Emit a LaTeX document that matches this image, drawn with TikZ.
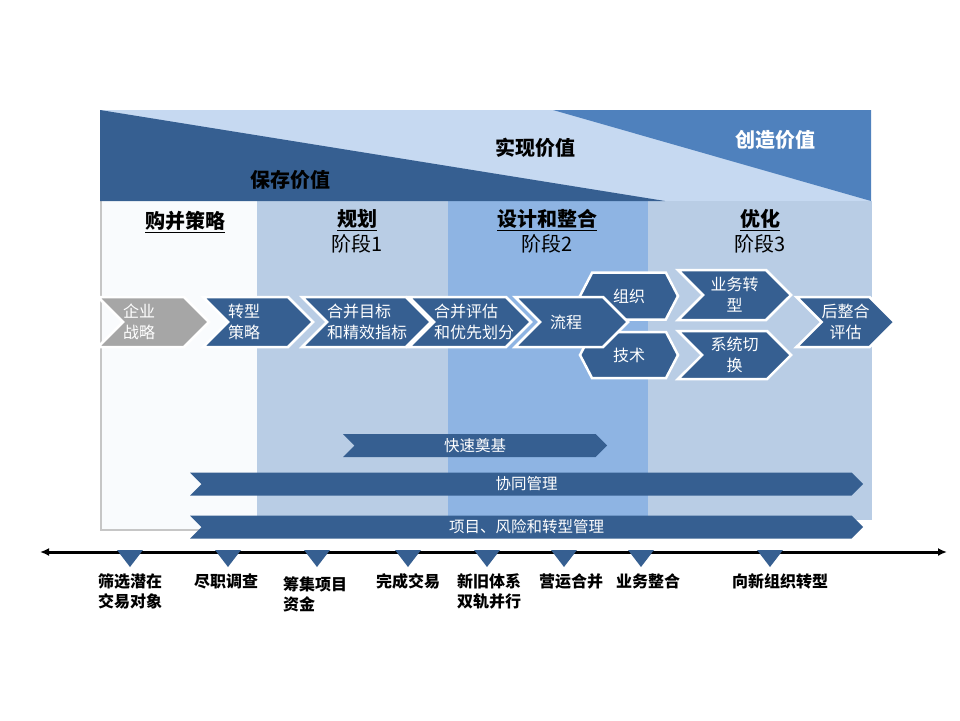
\documentclass[tikz,border=0pt]{standalone}
\usepackage{fontspec}
\setmainfont{Noto Sans CJK SC}
\usepackage{xcolor}
\usepackage{tikz}
\usetikzlibrary{positioning, arrows.meta, shapes.symbols}

\definecolor{dkblue}{HTML}{365F91}
\definecolor{mdblue}{HTML}{4F81BD}
\definecolor{bandlt}{HTML}{C6D9F1}
\definecolor{colA}{HTML}{F9FBFD}
\definecolor{colB}{HTML}{B9CDE5}
\definecolor{colC}{HTML}{8EB4E3}
\definecolor{chgray}{HTML}{A6A6A6}

\tikzset{
  chev/.style={signal, signal from=west, signal to=east, fill=dkblue, draw=white,
    line width=2.5pt, minimum width=110pt, minimum height=50pt, inner sep=0pt,
    text=white, font=\fontsize{16}{21}\selectfont, align=left},
  hexa/.style={chev, signal from=nowhere, signal to=west and east, signal pointer angle=125,
    minimum width=98pt, minimum height=47pt, align=center},
  bar/.style={signal, signal from=west, signal to=east, fill=dkblue, minimum height=23pt,
    inner sep=0pt, text=white, font=\fontsize{15.5}{18}\selectfont},
  head/.style={font=\bfseries\fontsize{20}{24}\selectfont, inner sep=0pt},
  stage/.style={font=\fontsize{20}{24}\selectfont, inner sep=0pt},
  lbl/.style={font=\bfseries\fontsize{16}{20}\selectfont, align=left, inner sep=0pt},
}

\begin{document}
\begin{tikzpicture}[x=1pt, y=-1pt]
\useasboundingbox (0,0) rectangle (960,720);

% phase columns
\fill[colA] (100,201) rectangle (257,530);
\draw[gray!45, line width=1.2pt] (101,201) -- (101,530) -- (257,530);
\fill[colB] (257,201) rectangle (448,520);
\fill[colC] (448,201) rectangle (648,520);
\fill[colB] (648,201) rectangle (872,520);

% value band
\fill[bandlt] (100,110) rectangle (871,201);
\fill[dkblue] (100,110) -- (665,201) -- (100,201) -- cycle;
\fill[mdblue] (553,110) -- (871,110) -- (871,201) -- cycle;
\node[head] (keep) at (290,180) {保存价值};
\node[head] (real) at (535,148) {实现价值};
\node[head, text=white] (make) at (775,140) {创造价值};

% headings
\node[head] (hA) at (185,222) {\underline{购并策略}};
\node[head] (hB) at (357,220) {\underline{规划}};
\node[stage, below=4pt of hB] (sB) {阶段1};
\node[head] (hC) at (547,220) {\underline{设计和整合}};
\node[stage, below=4pt of hC] (sC) {阶段2};
\node[head] (hD) at (760,220) {\underline{优化}};
\node[stage, below=4pt of hD] (sD) {阶段3};

% process chevrons
\node[chev, fill=chgray, text width=61pt] (qy) at (153.5,322) {企业\\战略};
\node[chev, text width=60pt] (zx) at (258,322) {转型\\策略};
\node[chev, minimum width=113pt, text width=79pt] (mb) at (366.5,322) {合并目标\\和精效指标};
\node[chev, minimum width=116pt, text width=72pt] (pg) at (470,322) {合并评估\\和优先划分};
\node[hexa] (zz) at (629,296) {组织};
\node[hexa, minimum height=46pt] (js) at (629,355) {技术};
\node[chev, minimum width=113pt, text width=43pt] (lc) at (571.5,322) {流程};
\node[chev, minimum width=113pt, align=center] (yw) at (734.5,295) {业务转\\型};
\node[chev, minimum width=113pt, minimum height=48pt, align=center] (xt) at (734.5,355) {系统切\\换};
\node[chev, minimum width=95pt, align=center] (hz) at (845.5,322) {后整合\\评估};

% management bars
\node[bar, minimum width=264pt] (ks) at (475,445.5) {快速奠基};
\node[bar, minimum width=673pt] (xg) at (526.5,484) {协同管理};
\node[bar, minimum width=673pt] (xm) at (526.5,527) {项目、风险和转型管理};

% timeline
\coordinate (tl) at (40,552);
\coordinate (tr) at (947,552);
\draw[line width=3pt, {Latex[length=9pt,width=8pt]}-{Latex[length=9pt,width=8pt]}] (tl) -- (tr);
\foreach \x in {130,228,317,408,487,564,641,770}
  \fill[dkblue] (\x-13,550) -- (\x+13,550) -- (\x,567) -- cycle;

\node[lbl, align=center] (m1) at (130,591) {筛选潜在\\交易对象};
\node[lbl] (m2) at (226,581) {尽职调查};
\node[lbl, anchor=west] (m3) at (283,594) {筹集项目\\资金};
\node[lbl] (m4) at (408,581) {完成交易};
\node[lbl, anchor=west] (m5) at (457,591) {新旧体系\\双轨并行};
\node[lbl] (m6) at (571,581) {营运合并};
\node[lbl] (m7) at (648,581) {业务整合};
\node[lbl] (m8) at (780,581) {向新组织转型};
\end{tikzpicture}
\end{document}
